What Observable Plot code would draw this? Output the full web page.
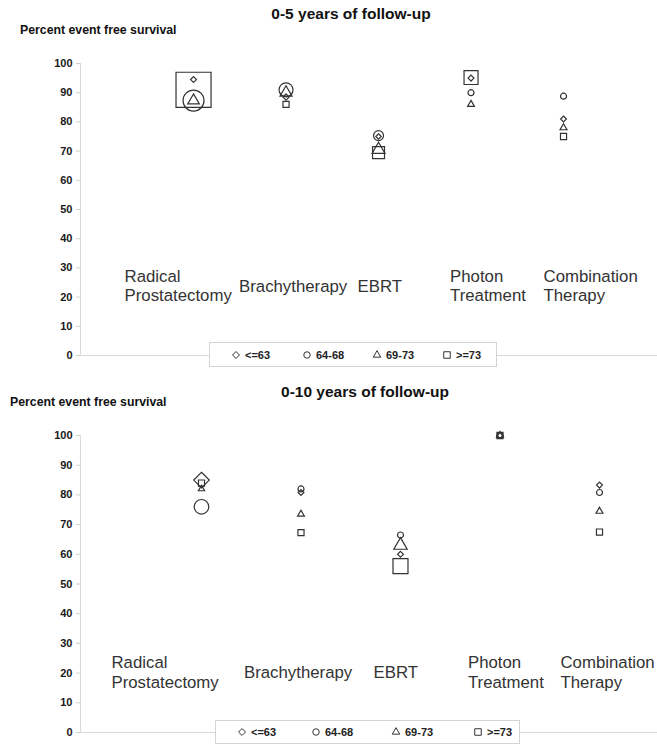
<!DOCTYPE html>
<html>
<head>
<meta charset="utf-8">
<script src="https://cdn.jsdelivr.net/npm/d3@7"></script>
<script src="https://cdn.jsdelivr.net/npm/@observablehq/plot@0.6"></script>
<style>
  body { margin: 0; background: #fff; font-family: Arial, "Liberation Sans", sans-serif; }
  .panel { position: relative; width: 657px; height: 372px; overflow: hidden; }
  .panel svg.chart { position: absolute; left: 0; top: 0; }
  .title { position: absolute; font-weight: bold; font-size: 15.5px; color: #111; white-space: nowrap; transform: translate(-50%, -50%); }
  .ylab { position: absolute; font-weight: bold; font-size: 12.3px; color: #111; white-space: nowrap; transform: translateY(-50%); }
  .legend { position: absolute; border: 1px solid #d4d4d4; background: #fff; box-sizing: border-box; }
  .legend .item { position: absolute; top: 50%; transform: translateY(-50%); font-weight: bold; font-size: 11px; color: #222; white-space: nowrap; display: flex; align-items: center; gap: 4px; }
</style>
</head>
<body>
<div id="p1" class="panel"></div>
<div id="p2" class="panel"></div>
<script>
// ---------- data ----------
const categories = ["Radical\nProstatectomy", "Brachytherapy", "EBRT", "Photon\nTreatment", "Combination\nTherapy"];
const ageGroups = ["<=63", "64-68", "69-73", ">=73"];
const yTicks = [0, 10, 20, 30, 40, 50, 60, 70, 80, 90, 100];

// 0-5 years of follow-up: percent event free survival per age group (order = categories)
const fu5_le63 = [94.5, 88.5, 75, 95, 81];
const fu5_64_68 = [87.3, 91, 75.3, 90, 88.8];
const fu5_69_73 = [87.3, 90, 70.5, 86, 78];
const fu5_ge73 = [91, 86, 69.5, 95.2, 75];
// relative marker areas (0-5 years)
const fu5w_le63 = [7, 8, 6, 7, 7];
const fu5w_64_68 = [110, 49, 25, 9, 9];
const fu5w_69_73 = [31, 33, 38, 11, 11];
const fu5w_ge73 = [497, 15, 58, 79, 15];

// 0-10 years of follow-up
const fu10_le63 = [85, 80.8, 60, 100, 83.3];
const fu10_64_68 = [76, 82, 66.5, 100, 80.8];
const fu10_69_73 = [82, 73.5, 63, 100, 74.5];
const fu10_ge73 = [84, 67.3, 56, 100, 67.5];
// relative marker areas (0-10 years)
const fu10w_le63 = [49, 7, 7, 7, 7];
const fu10w_64_68 = [53, 9, 9, 9, 9];
const fu10w_69_73 = [9, 11, 41, 11, 11];
const fu10w_ge73 = [15, 15, 91, 15, 15];

// ---------- layout / style ----------
const symbolNames = ["diamond2", "circle", "triangle2", "square2"];
const d3Symbols = [d3.symbolDiamond2, d3.symbolCircle, d3.symbolTriangle2, d3.symbolSquare2];
const legendSymbolSizes = [31, 33, 40, 54];
const font = 'Arial, "Liberation Sans", sans-serif';

const panels = [
  {
    id: "p1", title: "0-5 years of follow-up", titleX: 351, titleY: 14, ylabX: 20, ylabY: 30,
    values: [fu5_le63, fu5_64_68, fu5_69_73, fu5_ge73],
    weights: [fu5w_le63, fu5w_64_68, fu5w_69_73, fu5w_ge73],
    marginTop: 63, marginBottom: 17,
    xDomain: [-0.222, 6.016],
    labelY: 24, labelSize: 16.8, labelLineHeight: 1.15,
    labelDx: [-69, -47, -21, -21, -20],
    legend: { left: 209, top: 342, width: 288, height: 25, items: [21, 92, 162, 232] }
  },
  {
    id: "p2", title: "0-10 years of follow-up", titleX: 365, titleY: 20, ylabX: 10, ylabY: 30,
    values: [fu10_le63, fu10_64_68, fu10_69_73, fu10_ge73],
    weights: [fu10w_le63, fu10w_64_68, fu10w_69_73, fu10w_ge73],
    marginTop: 63, marginBottom: 12,
    xDomain: [-0.216, 5.583],
    labelY: 20.5, labelSize: 16.8, labelLineHeight: 1.18,
    labelDx: [-90, -57, -27, -32, -39],
    legend: { left: 215, top: 348, width: 305, height: 24, items: [21, 95, 175, 257] }
  }
];

function symbolSvg(k) {
  const path = d3.symbol(d3Symbols[k], legendSymbolSizes[k])();
  return `<svg width="10" height="10" viewBox="-5 -5 10 10"><path d="${path}" fill="none" stroke="#333" stroke-width="1"/></svg>`;
}

for (const p of panels) {
  const rows = [];
  ageGroups.forEach((g, gi) => {
    categories.forEach((c, ci) => {
      rows.push({ cat: ci + 1, group: g, value: p.values[gi][ci], weight: p.weights[gi][ci] });
    });
  });

  const labelMarks = categories.map((c, i) =>
    Plot.text([c], {
      x: i + 1, y: p.labelY, text: d => d, dx: p.labelDx[i],
      textAnchor: "start", lineAnchor: "middle", lineHeight: p.labelLineHeight,
      fontSize: p.labelSize, fill: "#333", fontWeight: "normal"
    })
  );

  const chart = Plot.plot({
    width: 657, height: 372,
    marginTop: p.marginTop, marginBottom: p.marginBottom, marginLeft: 80, marginRight: 0,
    style: { fontFamily: font, background: "transparent", overflow: "visible" },
    x: { type: "linear", domain: p.xDomain, axis: null },
    y: { domain: [0, 100], axis: null },
    r: { type: "sqrt", domain: [0, 500], range: [0, Math.sqrt(500)] },
    symbol: { domain: ageGroups, range: symbolNames },
    marks: [
      Plot.ruleY([0], { stroke: "#d9d9d9", strokeWidth: 1 }),
      Plot.ruleX([p.xDomain[0]], { y1: 0, y2: 100, stroke: "#d9d9d9", strokeWidth: 1 }),
      Plot.axisY({ ticks: yTicks, tickSize: 4, tickPadding: 4, stroke: "#d0d0d0", fill: "#1a1a1a",
        fontWeight: "bold", fontSize: 11, label: null }),
      ...labelMarks,
      Plot.dot(rows, { x: "cat", y: "value", symbol: "group", r: "weight",
        stroke: "#333", fill: "none", strokeWidth: 1.2 })
    ]
  });
  chart.classList.add("chart");

  const host = document.getElementById(p.id);
  host.appendChild(chart);

  const t = document.createElement("div");
  t.className = "title"; t.textContent = p.title;
  t.style.left = p.titleX + "px"; t.style.top = p.titleY + "px";
  host.appendChild(t);

  const yl = document.createElement("div");
  yl.className = "ylab"; yl.textContent = "Percent event free survival";
  yl.style.left = p.ylabX + "px"; yl.style.top = p.ylabY + "px";
  host.appendChild(yl);

  const lg = document.createElement("div");
  lg.className = "legend";
  Object.assign(lg.style, { left: p.legend.left + "px", top: p.legend.top + "px",
    width: p.legend.width + "px", height: p.legend.height + "px" });
  ageGroups.forEach((g, k) => {
    const it = document.createElement("div");
    it.className = "item";
    it.style.left = p.legend.items[k] + "px";
    it.innerHTML = symbolSvg(k) + "<span></span>";
    it.querySelector("span").textContent = g;
    lg.appendChild(it);
  });
  host.appendChild(lg);
}
</script>
</body>
</html>
